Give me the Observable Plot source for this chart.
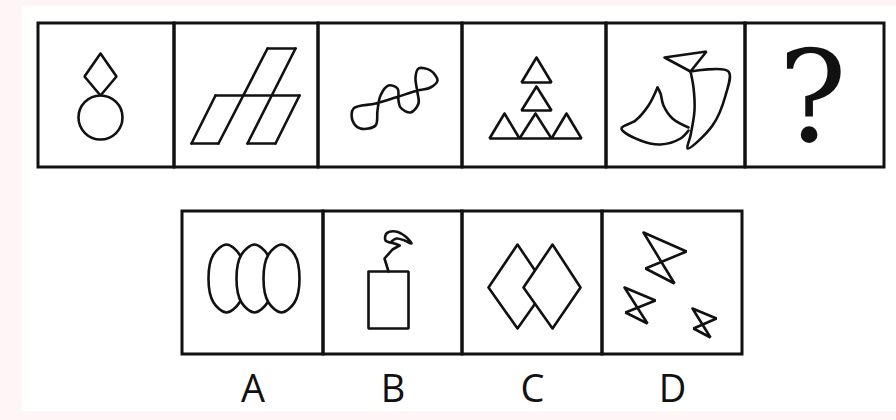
<!DOCTYPE html>
<html>
<head>
<meta charset="utf-8">
<script src="https://cdn.jsdelivr.net/npm/d3@7"></script>
<script src="https://cdn.jsdelivr.net/npm/@observablehq/plot@0.6"></script>
<style>body{margin:0;background:#fdf5f6;}</style>
</head>
<body>
<div id="chart"></div>
<script>
// cell edges of the two strips
const topEdges = [38, 174, 318, 462, 606, 745, 884];
const botEdges = [182, 323, 462, 602, 742];
const labels = ["A", "B", "C", "D"];

// straight polylines (open)
const openLines = [
  // parallelograms
  [[267,48],[295,48]], [[267,48],[218,143]], [[295,48],[247,143]],
  [[215,95],[299,95]], [[215,95],[191,143]], [[299,95],[275,143]],
  [[191,143],[218,143]], [[247,143],[275,143]],
  // string of B
  [[388,271],[384,258],[392,249],[399,245]]
];
// straight closed polygons
const polygons = [
  [[100,53],[116,76],[100,95],[84,76],[100,53]],
  [[536,57],[551,82],[521,82],[536,57]],
  [[536,86],[551,110],[521,110],[536,86]],
  [[504,113],[519,138],[489,138],[504,113]],
  [[535,113],[551,138],[519,138],[535,113]],
  [[566,113],[581,138],[551,138],[566,113]],
  [[664,57],[706,51],[690,71],[664,57]],
  [[368,271],[408,271],[408,328],[368,328],[368,271]],
  [[643,232],[686,251],[645,268],[674,283],[643,232]],
  [[624,287],[655,300],[625,312],[647,323],[624,287]],
  [[692,308],[716,318],[693,328],[710,337],[692,308]]
];
// filled white polygons, in draw order
const filledPolys = [
  [[517,244],[546,287],[517,328],[488,287]],
  [[552,244],[580,287],[552,328],[523,287]]
];
// smooth closed curves, in draw order (filled white)
const curves = [
  [[226,244],[239,254],[244,278],[239,302],[226,312],[213,302],[208,278],[213,254]],
  [[254,244],[267,254],[272,278],[267,302],[254,312],[241,302],[236,278],[241,254]],
  [[281,244],[294,254],[299,278],[294,302],[281,312],[268,302],[263,278],[268,254]],
  [[353,108],[352,120],[360,128],[375,125],[377,110],[380,95],[388,85],[397,88],[398,100],[400,107],[410,112],[418,103],[417,92],[415,77],[418,68],[430,70],[437,80],[430,87],[417,90],[395,97],[375,103]]
];
// smooth open curves
const softLines = [
  [[690,71],[728,71],[725,95],[712,125],[687,148],[690,135],[694,110],[693,87],[690,71]],
  [[657,87],[648,105],[635,120],[621,128],[640,140],[660,144],[680,138],[688,130]],
  [[688,127],[672,118],[663,105],[660,93],[657,87]],
  [[399,245],[394,243],[385,240],[386,233],[395,231],[405,236],[411,243],[404,240],[396,238],[391,241]]
];
const circles = [{x: 100, y: 117}];

const flat = (list) => list.flatMap((pts, g) => pts.map(([x, y]) => ({g, x, y})));
const cells = (edges, y1, y2) => edges.slice(1).map((e, i) => ({x1: edges[i], x2: e, y1, y2}));
const topCells = cells(topEdges, 23, 167);
const botCells = cells(botEdges, 211, 354);

const ink = "#111";
const sw = 2.6;

const chart = Plot.plot({
  width: 896,
  height: 420,
  margin: 0,
  x: {domain: [0, 896], range: [0, 896], axis: null},
  y: {domain: [0, 420], range: [0, 420], axis: null},
  style: {background: "#fdf5f6"},
  marks: [
    Plot.rect([{x1: 22, x2: 896, y1: 6, y2: 411}], {x1: "x1", x2: "x2", y1: "y1", y2: "y2", fill: "white"}),
    Plot.rect(topCells, {x1: "x1", x2: "x2", y1: "y1", y2: "y2", fill: "none", stroke: ink, strokeWidth: 3}),
    Plot.rect(botCells, {x1: "x1", x2: "x2", y1: "y1", y2: "y2", fill: "none", stroke: ink, strokeWidth: 3}),
    Plot.line(flat(openLines), {x: "x", y: "y", z: "g", stroke: ink, strokeWidth: sw}),
    Plot.line(flat(polygons), {x: "x", y: "y", z: "g", stroke: ink, strokeWidth: sw, strokeLinejoin: "miter"}),
    Plot.line(flat(curves), {x: "x", y: "y", z: "g", stroke: ink, fill: "white", strokeWidth: sw, curve: "catmull-rom-closed"}),
    Plot.line(flat(filledPolys), {x: "x", y: "y", z: "g", stroke: ink, fill: "white", strokeWidth: sw, curve: "linear-closed"}),
    Plot.line(flat(softLines), {x: "x", y: "y", z: "g", stroke: ink, strokeWidth: sw, curve: "catmull-rom"}),
    Plot.dot(circles, {x: "x", y: "y", r: 22, stroke: ink, strokeWidth: sw}),
    Plot.text(["?"], {x: 812, y: 100, text: d => d, fontFamily: "DejaVu Serif", fontSize: 128, fill: ink, lineAnchor: "middle"}),
    Plot.text(labels, {x: (d, i) => (botEdges[i] + botEdges[i + 1]) / 2, y: 389, text: d => d, fontFamily: "Open Sans", fontSize: 38, fill: ink, lineAnchor: "middle"})
  ]
});
document.getElementById("chart").append(chart);
</script>
</body>
</html>
